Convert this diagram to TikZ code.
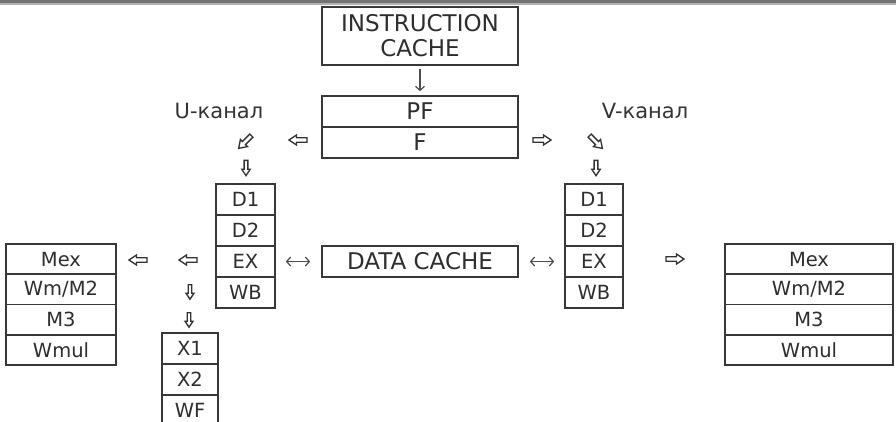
\documentclass[tikz,border=0pt]{standalone}
\usepackage{fontspec}
\setmainfont{DejaVu Sans}
\usetikzlibrary{arrows.meta}
\begin{document}
\begin{tikzpicture}[x=1pt,y=-1pt,
  frame/.style={draw=black!78, line width=1.7pt},
  cell/.style={frame, rectangle, inner sep=0pt, text=black!82,
    font=\fontsize{19.5}{21}\selectfont, minimum height=31pt},
  bigcell/.style={cell, font=\fontsize{23}{26}\selectfont},
  chanlabel/.style={text=black!80, font=\fontsize{21}{24}\selectfont, inner sep=0pt},
  barb/.tip={Straight Barb[length=4pt,width=9pt]},
  thinarrow/.style={draw=black!70, line width=1.2pt},
  hollow/.pic={\draw[black!80, line width=1.35pt, line join=miter]
    (-9,-2.2) -- (1.5,-2.2) -- (1.5,-5) -- (9,0) -- (1.5,5) -- (1.5,2.2) -- (-9,2.2) -- cycle;}
]
\useasboundingbox (0,0) rectangle (896,422);
\clip (0,0) rectangle (896,422);
\fill[white] (0,0) rectangle (896,422);

% header rule
\fill[black!55] (0,0) rectangle (896,3.5);
\fill[black!30] (0,3.5) rectangle (896,5.5);

% fetch stages
\node[bigcell, minimum width=196pt, minimum height=58pt, align=center] (ic) at (420,36)
  {INSTRUCTION\\[-1pt]CACHE};
\node[bigcell, minimum width=196pt] (pf) at (420,111.5) {PF};
\node[bigcell, minimum width=196pt] (f) at (420,142.5) {F};
\draw[thinarrow, -barb, shorten <=3pt, shorten >=4pt] (ic.south) -- (pf.north);

% channel labels
\node[chanlabel] (ulab) at (219,111) {U-канал};
\node[chanlabel] (vlab) at (645,111) {V-канал};

% U pipeline
\node[cell, minimum width=59pt] (ld1) at (245.5,199.5) {D1};
\node[cell, minimum width=59pt] (ld2) at (245.5,230.5) {D2};
\node[cell, minimum width=59pt] (lex) at (245.5,261.5) {EX};
\node[cell, minimum width=59pt] (lwb) at (245.5,292.5) {WB};

% V pipeline
\node[cell, minimum width=58pt] (rd1) at (594,199.5) {D1};
\node[cell, minimum width=58pt] (rd2) at (594,230.5) {D2};
\node[cell, minimum width=58pt] (rex) at (594,261.5) {EX};
\node[cell, minimum width=58pt] (rwb) at (594,292.5) {WB};

% data cache
\node[bigcell, minimum width=196pt] (dc) at (420,261.5) {DATA CACHE};
\draw[thinarrow, barb-barb, shorten <=10pt, shorten >=11pt] (lex.east) -- (dc.west);
\draw[thinarrow, barb-barb, shorten <=11pt, shorten >=10pt] (dc.east) -- (rex.west);

% multiply pipeline, left
\node[cell, minimum width=110pt, minimum height=30.25pt] (lmex) at (61,259.1) {Mex};
\node[cell, minimum width=110pt, minimum height=30.25pt] (lwm) at (61,289.4) {Wm/M2};
\node[cell, minimum width=110pt, minimum height=30.25pt] (lm3) at (61,319.6) {M3};
\node[cell, minimum width=110pt, minimum height=30.25pt] (lwmul) at (61,349.9) {Wmul};

% multiply pipeline, right
\node[cell, minimum width=168pt, minimum height=30.25pt] (rmex) at (809,259.1) {Mex};
\node[cell, minimum width=168pt, minimum height=30.25pt] (rwm) at (809,289.4) {Wm/M2};
\node[cell, minimum width=168pt, minimum height=30.25pt] (rm3) at (809,319.6) {M3};
\node[cell, minimum width=168pt, minimum height=30.25pt] (rwmul) at (809,349.9) {Wmul};

% floating-point pipeline
\node[cell, minimum width=56pt] (x1) at (190,348.5) {X1};
\node[cell, minimum width=56pt] (x2) at (190,379.5) {X2};
\node[cell, minimum width=56pt] (wf) at (190,410.5) {WF};

% hollow direction marks
\pic[rotate=180] at (298,140) {hollow};
\pic[rotate=-135] at (245,142) {hollow};
\pic[rotate=-90, scale=0.85] at (246,168) {hollow};
\pic at (542,140) {hollow};
\pic[rotate=-45] at (596,142) {hollow};
\pic[rotate=-90, scale=0.85] at (596,168) {hollow};
\pic[rotate=180] at (138,260) {hollow};
\pic[rotate=180] at (188,260) {hollow};
\pic[rotate=-90, scale=0.8] at (190,292) {hollow};
\pic[rotate=-90, scale=0.8] at (189,320) {hollow};
\pic at (675,259) {hollow};
\end{tikzpicture}
\end{document}
